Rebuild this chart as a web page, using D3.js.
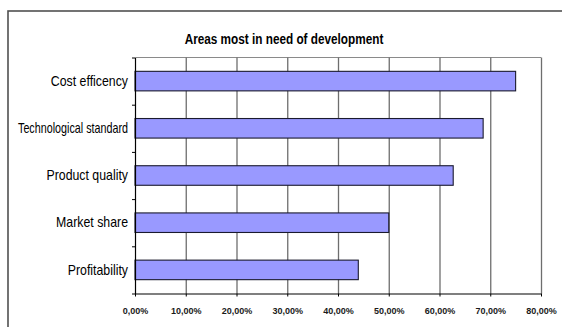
<!DOCTYPE html>
<html>
<head>
<meta charset="utf-8">
<script src="https://cdn.jsdelivr.net/npm/d3@7"></script>
<style>
  html, body { margin: 0; padding: 0; background: #fff; }
  svg { display: block; }
</style>
</head>
<body>
<svg id="chart" width="562" height="327"></svg>
<script>
const title = "Areas most in need of development";
const categories = ["Cost efficency", "Technological standard", "Product quality", "Market share", "Profitability"];
const values = [0.75, 0.686, 0.627, 0.50, 0.44];
const tickValues = [0, 0.1, 0.2, 0.3, 0.4, 0.5, 0.6, 0.7, 0.8];
const tickLabels = ["0,00%", "10,00%", "20,00%", "30,00%", "40,00%", "50,00%", "60,00%", "70,00%", "80,00%"];

const svg = d3.select("#chart");
const plotL = 135, plotR = 541, plotT = 57.5, plotB = 293.5;
const fontStack = "'Liberation Sans Narrow', 'Arial Narrow', 'Liberation Sans', Arial, sans-serif";

// condense text horizontally (Arial Narrow look), optionally capped to a max width
function condense(sel, factor, maxW) {
  sel.each(function () {
    let w = this.getComputedTextLength() * factor;
    if (maxW && w > maxW) w = maxW;
    d3.select(this).attr("textLength", w).attr("lengthAdjust", "spacingAndGlyphs");
  });
}

// outer frame
svg.append("rect")
  .attr("x", 8).attr("y", 11).attr("width", 600).attr("height", 400)
  .attr("fill", "#fff").attr("stroke", "#505050").attr("stroke-width", 1.6);

const x = d3.scaleLinear().domain([0, 0.8]).range([plotL, plotR]);
const p = 0.586;
const y = d3.scaleBand().domain(categories).range([plotT, plotB]).paddingInner(p).paddingOuter(p / 2);
const yEdges = d3.scaleLinear().domain([0, categories.length]).range([plotT, plotB]);

// title
svg.append("text")
  .attr("x", 284).attr("y", 44)
  .attr("text-anchor", "middle")
  .style("font-family", fontStack)
  .style("font-weight", "bold")
  .style("font-size", "14px")
  .attr("fill", "#000")
  .text(title)
  .call(condense, 0.84);

// top border of plot
svg.append("line")
  .attr("x1", plotL).attr("x2", plotR).attr("y1", plotT).attr("y2", plotT)
  .attr("stroke", "#8a8a8a").attr("stroke-width", 1.2);

// gridlines
svg.append("g")
  .attr("transform", `translate(0,${plotB})`)
  .call(d3.axisBottom(x).tickValues(tickValues.slice(1)).tickSize(-(plotB - plotT)).tickFormat(""))
  .call(g => g.select(".domain").remove())
  .call(g => g.selectAll(".tick line").attr("stroke", "#6e6e6e").attr("stroke-width", 1.3));

// bars
svg.append("g").selectAll("rect")
  .data(categories)
  .join("rect")
  .attr("x", x(0))
  .attr("y", d => y(d))
  .attr("width", (d, i) => x(values[i]) - x(0))
  .attr("height", y.bandwidth())
  .attr("fill", "#9999ff")
  .attr("stroke", "#1a1a2e")
  .attr("stroke-width", 1.1);

// y axis line with boundary ticks
svg.append("g")
  .attr("transform", `translate(${plotL},0)`)
  .call(d3.axisLeft(yEdges).tickValues(d3.range(categories.length + 1)).tickSize(3).tickSizeOuter(0).tickFormat(""))
  .call(g => g.select(".domain").attr("stroke", "#000").attr("stroke-width", 1.2))
  .call(g => g.selectAll(".tick line").attr("stroke", "#000"));

// y labels
svg.append("g")
  .attr("transform", `translate(${plotL},0)`)
  .call(d3.axisLeft(y).tickSize(0).tickPadding(7))
  .call(g => g.select(".domain").remove())
  .call(g => g.selectAll("text")
    .style("font-family", fontStack)
    .style("font-size", "14.5px")
    .attr("fill", "#000")
    .call(condense, 0.85, 110));

// x axis
svg.append("g")
  .attr("transform", `translate(0,${plotB})`)
  .call(d3.axisBottom(x).tickValues(tickValues).tickSize(3).tickSizeOuter(0).tickPadding(11.5)
    .tickFormat((d, i) => tickLabels[i]))
  .call(g => g.select(".domain").attr("stroke", "#000").attr("stroke-width", 1.2))
  .call(g => g.selectAll(".tick line").attr("stroke", "#000"))
  .call(g => g.selectAll("text")
    .style("font-family", "'Liberation Sans', Arial, sans-serif")
    .style("font-weight", "bold")
    .style("font-size", "9px")
    .attr("fill", "#1a1a1a"));
</script>
</body>
</html>
